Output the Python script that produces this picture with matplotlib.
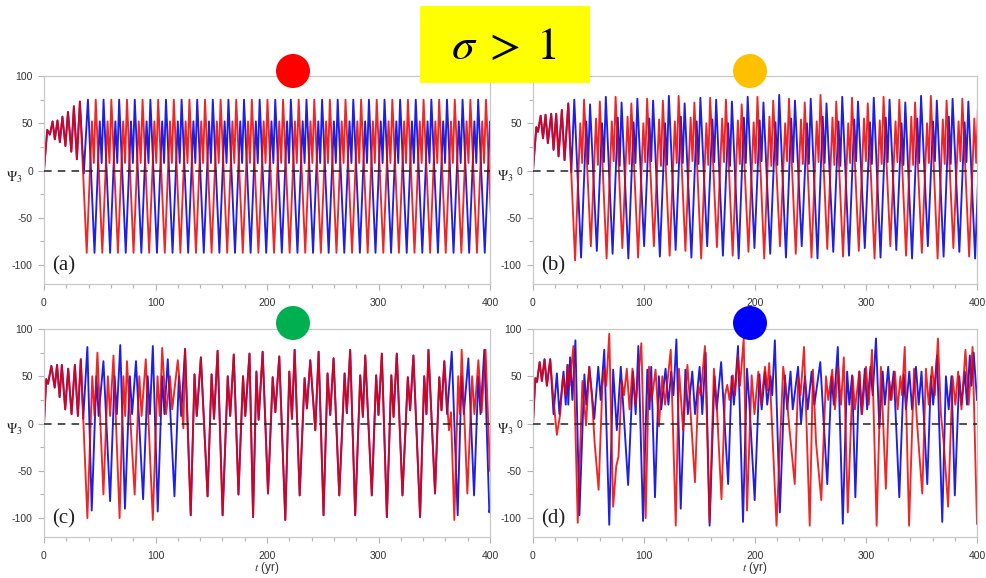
import numpy as np
import matplotlib.pyplot as plt
from matplotlib.patches import Rectangle, Ellipse

plt.rcParams['font.family'] = ['Liberation Sans', 'DejaVu Sans']
plt.rcParams['mathtext.fontset'] = 'stix'

# ---------------- panel (a) ----------------
# common start-up wiggle of both runs: (t, Psi3) turning points
a_start = [(0, 0), (2.9, 43), (5.3, 38), (7.7, 52), (9.7, 33), (12.1, 53), (14.2, 30),
           (16.5, 57), (19.2, 26), (21.5, 62), (24.5, 20), (26.8, 68), (29.5, 12), (32.2, 73)]
a_blue_bridge = [(35.7, -3), (39.4, 75)]
# times of the deep troughs once the runs are locked
a_red_troughs = [38.3, 52.3, 66.3, 80.3, 94.3, 108.3, 122.3, 136.3, 150.3, 164.3, 178.3,
                 192.3, 206.3, 220.3, 234.3, 248.3, 262.3, 276.3, 290.3, 304.3, 318.3,
                 332.3, 346.3, 360.3, 374.3, 388.3, 402.3]
a_blue_troughs = [45.3, 59.3, 73.3, 87.3, 101.3, 115.3, 129.3, 143.3, 157.3, 171.3, 185.3,
                  199.3, 213.3, 227.3, 241.3, 255.3, 269.3, 283.3, 297.3, 311.3, 325.3,
                  339.3, 353.3, 367.3, 381.3, 395.3]
# one cycle: trough, first peak, dip, main peak (values) and their lag after the trough
a_levels = [-87, 52, 8, 75]
cycle_lag = [0, 4.7, 6.4, 8.1]

# ---------------- panel (b) ----------------
b_start = [(0, 0), (3, 46), (4.5, 41), (6.9, 58), (9, 34), (11.3, 59), (13.4, 29), (16.4, 60),
           (18.5, 22), (20.9, 60), (23, 15), (26, 64), (28.4, 11), (31.8, 71)]
b_blue_bridge = [(34.5, -2), (37.2, 75)]
b_red_troughs = [37.9, 52.1, 66.3, 80.5, 94.7, 108.9, 123.1, 137.3, 151.5, 165.7, 179.9,
                 194.1, 208.3, 222.5, 236.7, 250.9, 265.1, 279.3, 293.5, 307.7, 321.9,
                 336.1, 350.3, 364.5, 378.7, 392.9]
b_red_low = [-95, -80, -93, -82, -92, -80, -90, -85, -93, -81, -90, -86, -93, -80, -88, -92,
             -83, -91, -85, -93, -80, -90, -87, -93, -82, -91]
b_red_p1 = [50, 55, 52, 57, 50, 54, 52, 56, 50, 55, 53, 51, 57, 50, 54, 52, 56, 50, 55, 53,
            52, 57, 50, 54, 52, 55]
b_red_dip = [8, 6, 10, 7, 9, 5, 8, 10, 6, 9, 7, 8, 5, 10, 7, 9, 6, 8, 10, 7, 9, 6, 8, 7, 10, 8]
b_red_p2 = [75, 73, 78, 71, 76, 74, 79, 72, 77, 75, 70, 78, 74, 76, 72, 80, 73, 77, 71, 78,
            75, 72, 79, 74, 76, 73]
b_blue_troughs = [43.3, 57.5, 71.7, 85.9, 100.1, 114.3, 128.5, 142.7, 156.9, 171.1, 185.3,
                  199.5, 213.7, 227.9, 242.1, 256.3, 270.5, 284.7, 298.9, 313.1, 327.3,
                  341.5, 355.7, 369.9, 384.1, 398.3]
b_blue_low = [-92, -85, -88, -93, -80, -91, -84, -92, -80, -90, -93, -82, -88, -92, -80, -93,
              -86, -90, -82, -92, -84, -93, -80, -91, -86, -93]
b_blue_p1 = [52, 50, 56, 51, 55, 50, 57, 52, 54, 50, 56, 53, 51, 55, 50, 57, 52, 54, 51, 56,
             50, 55, 52, 57, 51, 54]
b_blue_dip = [7, 9, 5, 8, 10, 6, 8, 7, 9, 5, 8, 10, 6, 9, 7, 8, 5, 10, 7, 9, 6, 8, 10, 7, 9, 6]
b_blue_p2 = [70, 78, 72, 76, 74, 79, 71, 77, 75, 73, 78, 72, 80, 74, 76, 71, 78, 73, 77, 75,
             72, 79, 74, 76, 73, 77]

# ---------------- panel (c) ----------------
c_start = [(0, 0), (2, 47), (3.6, 42), (6.6, 61), (9.6, 38), (11.7, 62), (14, 28), (16, 62),
           (19, 15), (21.7, 58), (24.7, 10), (27.7, 62), (30.4, 8), (33, 68)]
c_red_early = [(38.9, -100), (43.3, 50), (45.3, 8), (47.9, 75), (53.3, -75), (57.3, 50),
               (59.3, 8), (62.3, 72), (67.8, -100), (71.2, 50), (72.8, 8), (74.4, 66),
               (81.3, -75), (85.5, 50), (87.5, 8), (91.3, 68), (97.6, -102), (101.8, 50),
               (103.8, 8), (106, 80), (109.5, 10), (113, 50), (115, 15), (120, 67),
               (125, -5), (126.5, 79)]
c_blue_early = [(35.2, 5), (38.9, 81), (42.8, -92), (47, 50), (49, 8), (53.3, 66), (59.3, -82),
                (63.3, 50), (65.3, 10), (68.4, 83), (72.6, -90), (77, 50), (79, 10), (82.5, 66),
                (88.9, -80), (93, 50), (95, 10), (97.6, 82), (102, -93), (106, 50), (108, 10),
                (111, 68), (117, -77), (121, 50), (123, 8), (126.5, 79)]
c_shared = [(131.6, -97), (135, 52), (137, 8), (140.7, 70), (146.7, -77), (150.3, 52),
            (152.5, 5), (155.7, 77), (160.2, -97), (164.8, 50), (167, 8), (170.2, 73),
            (174.4, -75), (178.5, 50), (180.5, 8), (184.3, 74), (187.5, -99), (190.5, 55),
            (192.5, 4), (196.1, 76), (200.9, -74), (205.1, 49), (207.5, 12), (211, 71),
            (216.4, -102), (220, 55), (222.4, 5), (224.8, 78), (229.3, -76), (233.7, 48),
            (235.8, 16), (238.8, 67), (243.3, -7), (246.3, 76), (250.7, -97), (254.3, 53),
            (256.7, 9), (259.7, 69), (264.8, -76), (269.6, 53), (271.6, 11), (274.6, 78),
            (279.1, -97), (283.6, 51), (286, 7), (288.1, 72), (294, -76), (297.9, 51),
            (300, 9), (303, 74), (307.5, -99), (311.5, 51), (313.5, 7), (316.4, 74),
            (321.5, -76), (326.3, 49), (328.4, 14), (331.3, 72), (337.3, -99), (341, 50),
            (343, 10), (344.8, 78), (350.7, -74), (354.5, 49), (356.5, 14), (359, 66)]
c_red_tail = [(363.2, -7), (365, 12), (368, -102), (371.5, 50), (373, 10), (374.6, 78),
              (379.7, -74), (384, 50), (386, 10), (389.6, 67), (392.5, 12), (396, 78), (400, -50)]
c_blue_tail = [(361.5, 10), (365.7, 76), (371, -97), (374.5, 50), (376.5, 10), (380.6, 69),
               (385.7, -76), (389.5, 50), (391.5, 10), (394.9, 78), (399.4, -94), (400, -90)]

# ---------------- panel (d) ----------------
d_start = [(0, 0), (2.1, 48), (3.6, 44), (6, 65), (8, 45), (10.4, 68), (12.5, 40), (15.5, 68)]
d_red = [(18.5, 25), (21.5, -12), (24.5, 10), (27, 50), (29.5, 30), (31.5, 62), (33, 40),
         (36.4, 82), (40.3, -105), (44.5, 45), (47.8, -2), (50.7, 60), (53, 30), (55.5, -20),
         (59.1, -70), (62.5, 40), (64.5, 58), (66, 40), (68.7, 95), (72.2, -88), (75, -45),
         (77, -35), (80, 45), (82, 30), (84.5, 58), (87, 15), (89.6, 58), (92.5, 20),
         (97.6, 85), (101.5, -100), (104.5, 60), (107, 25), (110.4, 57), (113.4, -3),
         (116.5, 50), (119, 20), (124.1, 78), (128.6, -108), (131.5, 58), (135.2, -7),
         (139.1, 62), (141, 30), (145.9, -62), (149, 40), (151, 30), (154.9, 82),
         (159.1, -104), (163, 58), (165.5, 20), (169.8, -80), (173, 30), (175, 41), (177, 25),
         (180, 51), (182, 30), (184.7, 72), (186.5, 40), (189.8, 90), (192.8, -92), (197, 51),
         (199.5, 10), (203, 55), (205.5, 20), (209, 60), (211, 35), (212.8, 64),
         (219.4, -108), (225.4, 60), (228, 35), (231, -5), (235.8, -64), (239, 50), (241, 30),
         (244.2, 81), (249.3, -108), (252.2, 57), (255, -20), (259.7, -81), (264, 50),
         (266, 25), (269.6, 57), (272, 15), (275, 60), (277.5, 20), (280, 70), (283.6, -94),
         (288, 50), (290, 15), (294, 55), (296.5, 10), (300, 60), (302.5, 20), (305.4, 78),
         (309.6, -108), (313.4, 60), (315.5, 0), (317.9, -69), (321, 45), (323, 25), (326, 55),
         (328.5, 15), (331, 50), (332.5, 30), (334.9, 81), (338.8, -108), (343.3, 58),
         (346, 0), (350.7, -74), (354, 58), (356.5, 20), (359.5, 60), (362, 30), (364.8, 90),
         (367.5, 10), (370, -20), (374, -88), (378, 50), (380.5, 20), (383, 55), (386, 15),
         (389.6, 78), (392.5, 20), (396, 81), (400, -106)]
d_blue = [(18.5, 10), (21.5, 53), (23.8, 10), (27.5, 55), (29.5, 20), (30.9, 62), (31.8, 20),
          (33.4, 70), (35.5, 25), (38.2, 88), (41.8, -97), (46.3, 52), (48, 20), (50.7, 60),
          (55.2, 5), (58.8, 60), (61, 25), (64.2, 78), (68.7, -107), (72.2, 57), (75.5, -7),
          (79.1, 60), (85.7, -65), (90.1, 55), (92.5, 10), (94.9, 82), (99.1, -103), (103, 57),
          (105, 15), (106.5, 60), (109.9, -78), (113.4, 50), (115.5, 15), (119.4, 58),
          (122, 20), (124.5, 55), (126.5, 30), (129.2, 89), (133.1, -90), (137.3, 57),
          (139.5, 10), (143.5, 55), (146, 10), (150.1, 60), (152.5, 10), (155.5, 75),
          (159.1, -108), (163.5, 50), (165.5, 15), (169.5, 65), (175.8, -64), (179, 50),
          (181, 20), (184.7, 82), (189.2, -104), (192.8, 58), (195, 20), (199.7, -81),
          (204, 52), (206, 15), (209, 55), (211, 20), (214, 50), (215.5, 30), (217.9, 88),
          (222.4, -94), (226.9, 51), (229, 15), (232, 55), (234, 15), (238.8, 60), (241.5, 0),
          (245, 50), (247.5, 15), (251, 55), (253.5, 20), (258.8, 65), (265.1, -64), (269, 50),
          (271, 20), (274.6, 81), (279.1, -106), (283, 55), (285, 20), (287.5, 51),
          (290.4, -78), (294, 55), (296, 10), (299, 58), (301, 15), (304, 60), (306, 30),
          (309, 90), (312, -5), (315, 55), (317, 20), (320, 60), (322, 25), (325, 55),
          (330, -78), (334, 52), (336, 15), (339, 55), (341.5, 15), (345, 60), (347.5, 20),
          (350, 55), (355.2, -64), (358.5, 50), (360.5, 20), (364, 72), (368.7, -104),
          (372, 50), (374.5, 15), (377, 50), (380, -76), (384, 50), (386, 20), (389, 55),
          (391, 20), (393.5, 72), (395, 40), (397, 75), (400, 25)]

panel_tags = ['(a)', '(b)', '(c)', '(d)']
dot_colors = ['#FF0000', '#FFC000', '#00B050', '#0000FF']

RED = '#EE0000'
BLUE = '#1E1EE6'


def cycles(troughs, low, p1, dip, p2):
    pts = []
    for i, T in enumerate(troughs):
        vals = [np.broadcast_to(v, len(troughs))[i] for v in (low, p1, dip, p2)]
        pts += [(T + lag, v) for lag, v in zip(cycle_lag, vals)]
    return pts


a_red = a_start + cycles(a_red_troughs, *a_levels)
a_blue = a_start + a_blue_bridge + cycles(a_blue_troughs, *a_levels)
b_red = b_start + cycles(b_red_troughs, b_red_low, b_red_p1, b_red_dip, b_red_p2)
b_blue = b_start + b_blue_bridge + cycles(b_blue_troughs, b_blue_low, b_blue_p1,
                                          b_blue_dip, b_blue_p2)
c_red = c_start + c_red_early + c_shared + c_red_tail
c_blue = c_start + c_blue_early + c_shared + c_blue_tail
d_red_all = d_start + d_red
d_blue_all = d_start + d_blue

series = [(a_red, a_blue), (b_red, b_blue), (c_red, c_blue), (d_red_all, d_blue_all)]

W, H = 987, 578
fig = plt.figure(figsize=(W / 100, H / 100), dpi=100)

# axes boxes in pixels: left, top, right, bottom
boxes = [(44, 76, 490, 284), (533, 76, 977, 284), (44, 329, 490, 537), (533, 329, 977, 537)]
psi_pos = [(14, 177), (505, 176), (14, 429), (505, 429)]
dot_pos = [(293, 71), (750, 71), (293, 323), (750, 323)]

for k, (l, t, r, b) in enumerate(boxes):
    ax = fig.add_axes([l / W, 1 - b / H, (r - l) / W, (b - t) / H])
    red, blue = series[k]
    bt, by = zip(*blue)
    rt, ry = zip(*red)
    ax.plot(bt, by, color=BLUE, lw=1.35, zorder=2, solid_joinstyle='round')
    ax.plot(rt, ry, color=RED, lw=1.35, alpha=0.85, zorder=2.1, solid_joinstyle='round')
    ax.axhline(0, color='#222222', lw=1.1, ls=(0, (5, 4)), zorder=3)
    ax.set_xlim(0, 400)
    ax.set_ylim(-120, 100)
    ax.set_xticks([0, 100, 200, 300, 400])
    ax.set_xticks(np.arange(0, 401, 20), minor=True)
    ax.set_yticks([-100, -50, 0, 50, 100])
    ax.set_yticks(np.arange(-100, 101, 25), minor=True)
    ax.set_yticklabels(['-100', '-50', '0', '50', '100'])
    ax.tick_params(which='both', direction='out', color='#B4B4B4', width=0.8,
                   labelsize=7.5, labelcolor='#333333')
    ax.tick_params(which='major', length=4)
    ax.tick_params(which='minor', length=3)
    ax.tick_params(axis='x', pad=6)
    ax.tick_params(axis='y', pad=4)
    for s in ax.spines.values():
        s.set_color('#C8C8C8')
        s.set_linewidth(0.9)
    ax.text(0.018, 0.088, panel_tags[k], transform=ax.transAxes, fontsize=15,
            family='Liberation Serif', va='center', ha='left', color='#222222')
    if k >= 2:
        ax.set_xlabel(r'$t$ (yr)', fontsize=8.5, labelpad=-1, color='#333333')
    px, py = psi_pos[k]
    fig.text(px / W, 1 - py / H, r'$\Psi_3$', fontsize=10, ha='center', va='center',
             color='#222222')

# colour marker dots
for (cx, cy), col in zip(dot_pos, dot_colors):
    fig.add_artist(Ellipse((cx / W, 1 - cy / H), 34 / W, 34 / H, transform=fig.transFigure,
                           facecolor=col, edgecolor='none', zorder=5))

# yellow title box
fig.add_artist(Rectangle((420 / W, 1 - 83 / H), 170 / W, 77 / H, transform=fig.transFigure,
                         facecolor='#FFFF00', edgecolor='none', zorder=5))
fig.text(504 / W, 1 - 47 / H, r'$\sigma\;>\;1$', fontsize=33, ha='center', va='center',
         zorder=6)

fig.savefig('out.png', dpi=100)
